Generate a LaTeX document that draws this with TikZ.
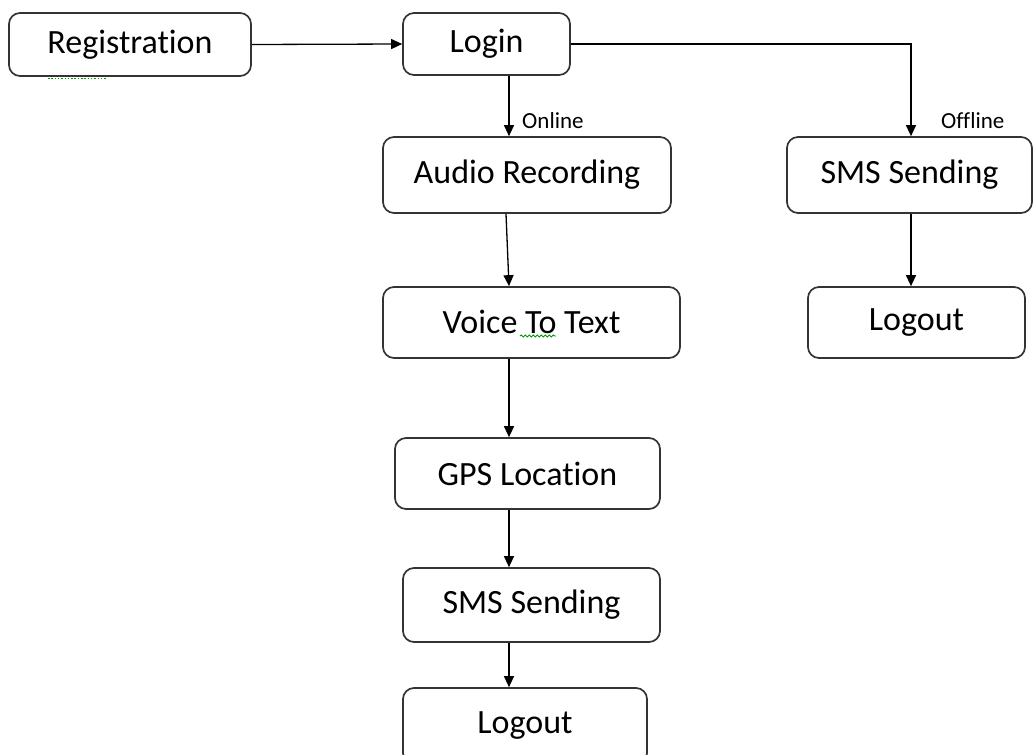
\documentclass[tikz,border=0pt]{standalone}
\usepackage{fontspec}
\setmainfont{Carlito}[Ligatures=NoCommon]
\usetikzlibrary{arrows.meta,decorations.pathmorphing}
\begin{document}
\begin{tikzpicture}[x=1pt,y=-1pt,
  box/.style={draw=black!80, line width=1.7pt, rounded corners=11pt,
    font=\fontsize{34}{40}\selectfont, inner sep=0pt, align=center},
  conn/.style={draw=black, line width=1.3pt, -{Triangle[length=11pt,width=10pt]}},
  lbl/.style={font=\fontsize{23}{27}\selectfont, anchor=base west, inner sep=0pt},
  spell/.style={draw=green!60!black, line width=0.9pt}]
\useasboundingbox (0,0) rectangle (1034,755);

% boxes
\node[box, minimum width=242pt, minimum height=63pt] (reg)   at (130,44.5)  {\raisebox{-2pt}{Registration}};
\node[box, minimum width=167pt, minimum height=62pt] (login) at (486.5,44)  {\raisebox{-2pt}{Login}};
\node[box, minimum width=288pt, minimum height=76pt] (audio) at (527,175)   {Audio Recording};
\node[box, minimum width=297pt, minimum height=71pt] (voice) at (531.5,322.5) {\raisebox{2pt}{Voice To Text}};
\node[box, minimum width=265pt, minimum height=71pt] (gps)   at (527.5,473.5) {GPS Location};
\node[box, minimum width=257pt, minimum height=74pt] (smsm)  at (531.5,605) {SMS Sending};
\node[box, minimum width=244pt, minimum height=76pt] (outm)  at (525,726)   {Logout};
\node[box, minimum width=245pt, minimum height=76pt] (smsr)  at (909.5,175) {SMS Sending};
\node[box, minimum width=217pt, minimum height=71pt] (outr)  at (916.5,322.5) {Logout};

% connector columns
\coordinate (colA) at (509,0);
\coordinate (colB) at (506,0);
\coordinate (colR) at (911,0);

% connectors
\draw[conn] (reg.east) -- (login.west);
\draw[conn] (login.south -| colA) -- (audio.north -| colA);
\draw[conn] (login.east) -| (smsr.north -| colR);
\draw[conn] (audio.south -| colB) -- (voice.north -| colA);
\draw[conn] (voice.south -| colA) -- (gps.north -| colA);
\draw[conn] (gps.south -| colA) -- (smsm.north -| colA);
\draw[conn] (smsm.south -| colA) -- (outm.north -| colA);
\draw[conn] (smsr.south -| colR) -- (outr.north -| colR);

% labels
\node[lbl] (lon)  at (522,128.5) {Online};
\node[lbl] (loff) at (941,128.5) {Offline};

% spell-check marks
\draw[spell, line width=1.5pt, dash pattern=on 1.5pt off 1.8pt] (48,78.5) -- (106,78.5);
\draw[spell, decorate, decoration={snake, amplitude=1pt, segment length=4pt}] (520,336) -- (556,336);
\end{tikzpicture}
\end{document}
